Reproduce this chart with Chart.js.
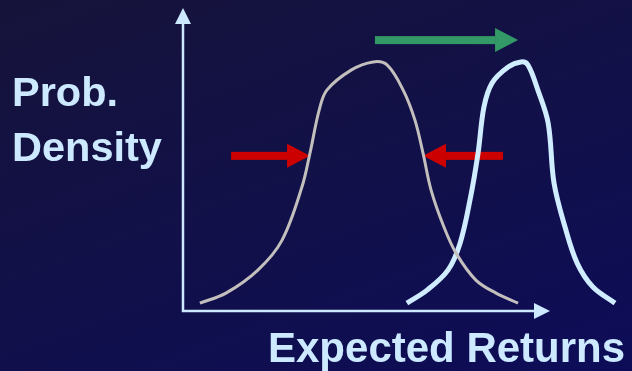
<!DOCTYPE html>
<html lang="en">
<head>
    <meta charset="UTF-8">
    <title>Prob. Density vs Expected Returns</title>
    <script src="https://cdn.jsdelivr.net/npm/chart.js"></script>
    <style>
        html, body { margin: 0; padding: 0; }
        body {
            width: 632px; height: 371px; overflow: hidden; position: relative;
            background: linear-gradient(160deg, #16133a 0%, #11104a 55%, #0d0c58 100%);
            font-family: "Liberation Sans", Arial, sans-serif;
        }
        #wrap { position: absolute; left: 0; top: 0; width: 632px; height: 371px; }
        .lbl {
            position: absolute; color: #cce9ff; font-weight: bold;
            font-size: 41.5px; line-height: 40px; white-space: nowrap;
        }
    </style>
</head>
<body>
    <div id="wrap"><canvas id="chart" width="632" height="371"></canvas></div>
    <div class="lbl" style="left:12px; top:72px;">Prob.</div>
    <div class="lbl" style="left:12px; top:127px;">Density</div>
    <div class="lbl" style="left:268px; top:328px; font-size:42px;">Expected Returns</div>

    <script>
        // current distribution (wide, gray)
        const grayX = [4.6, 11.7, 20.4, 27.0, 32.4, 34.6, 37.1, 39.2, 45.8, 51.8, 55.6, 60.0, 63.2, 65.4, 67.6, 71.1, 74.4, 79.8, 85.3, 91.3];
        const grayY = [2.6, 5.9, 13.5, 23.4, 40.9, 52.1, 66.3, 72.9, 79.5, 82.2, 81.2, 72.9, 63.0, 52.1, 39.9, 27.7, 19.1, 10.2, 5.9, 2.6];

        // shifted distribution (narrow, light blue)
        const blueX = [61.0, 66.5, 72.2, 75.5, 78.2, 80.4, 82.0, 84.2, 88.6, 92.1, 94.0, 96.7, 99.5, 101.1, 104.1, 107.4, 111.7, 117.7];
        const blueY = [2.6, 6.9, 13.5, 22.4, 36.6, 52.1, 67.3, 75.2, 80.5, 82.2, 81.2, 72.9, 62.0, 42.2, 27.7, 15.8, 7.9, 2.6];

        // axis extents (data units) where the arrow heads sit
        const axisEnd = { x: 100, y: 100 };

        // arrows: [fromX, toX, y] in data units
        const shiftArrow = [52.3, 91.3, 89.4];
        const squeezeArrows = [[13.1, 34.6, 51.2], [87.2, 65.4, 51.2]];

        const toPoints = (xs, ys) => xs.map((x, i) => ({ x: x, y: ys[i] }));

        function drawArrow(ctx, x1, x2, y, shaft, headW, headL, color) {
            const dir = x2 > x1 ? 1 : -1;
            const base = x2 - dir * headL;
            ctx.fillStyle = color;
            ctx.fillRect(Math.min(x1, base), y - shaft / 2, Math.abs(base - x1), shaft);
            ctx.beginPath();
            ctx.moveTo(base, y - headW / 2);
            ctx.lineTo(x2, y);
            ctx.lineTo(base, y + headW / 2);
            ctx.closePath();
            ctx.fill();
        }

        const decorPlugin = {
            id: "decor",
            beforeDatasetsDraw(chart) {
                const ctx = chart.ctx;
                const xs = chart.scales.x, ys = chart.scales.y;
                const left = xs.getPixelForValue(0), bottom = ys.getPixelForValue(0);
                const right = xs.getPixelForValue(axisEnd.x), top = ys.getPixelForValue(axisEnd.y);
                ctx.save();

                // axes with arrow heads
                ctx.strokeStyle = "#cce9ff";
                ctx.fillStyle = "#cce9ff";
                ctx.lineWidth = 2.5;
                ctx.beginPath();
                ctx.moveTo(left, top + 12);
                ctx.lineTo(left, bottom);
                ctx.lineTo(right - 12, bottom);
                ctx.stroke();
                ctx.beginPath();
                ctx.moveTo(left, top);
                ctx.lineTo(left - 8, top + 16);
                ctx.lineTo(left + 8, top + 16);
                ctx.closePath();
                ctx.fill();
                ctx.beginPath();
                ctx.moveTo(right, bottom);
                ctx.lineTo(right - 16, bottom - 8);
                ctx.lineTo(right - 16, bottom + 8);
                ctx.closePath();
                ctx.fill();

                // green shift arrow
                drawArrow(ctx, xs.getPixelForValue(shiftArrow[0]), xs.getPixelForValue(shiftArrow[1]),
                    ys.getPixelForValue(shiftArrow[2]), 8, 24, 23, "#339966");

                // red squeeze arrows
                squeezeArrows.forEach(r => {
                    drawArrow(ctx, xs.getPixelForValue(r[0]), xs.getPixelForValue(r[1]),
                        ys.getPixelForValue(r[2]), 8, 24, 23, "#cc0000");
                });
                ctx.restore();
            }
        };

        new Chart(document.getElementById("chart").getContext("2d"), {
            type: "line",
            data: {
                datasets: [
                    {
                        label: "Current",
                        data: toPoints(grayX, grayY),
                        borderColor: "#c2bfbd",
                        borderWidth: 3,
                        pointRadius: 0,
                        tension: 0.35,
                        fill: false,
                        clip: false,
                    },
                    {
                        label: "Shifted",
                        data: toPoints(blueX, blueY),
                        borderColor: "#d0ecff",
                        borderWidth: 5,
                        pointRadius: 0,
                        tension: 0.35,
                        fill: false,
                        clip: false,
                    },
                ],
            },
            options: {
                responsive: false,
                animation: false,
                layout: { padding: { left: 183, right: 8.6, top: 8, bottom: 60 } },
                plugins: { legend: { display: false }, tooltip: { enabled: false } },
                scales: {
                    x: { type: "linear", min: 0, max: 120, display: false },
                    y: { type: "linear", min: 0, max: 100, display: false },
                },
            },
            plugins: [decorPlugin],
        });
    </script>
</body>
</html>
